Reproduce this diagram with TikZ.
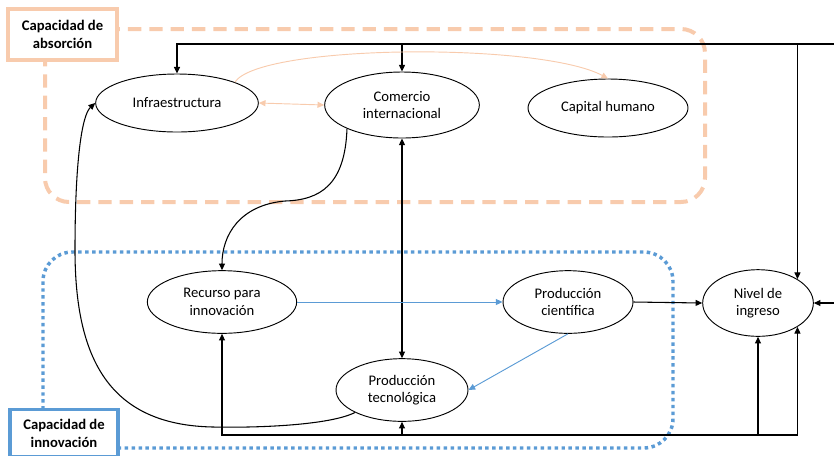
\documentclass[tikz,border=0pt]{standalone}
\usepackage{fontspec}
\setmainfont{Carlito}
\usetikzlibrary{arrows.meta,shapes.geometric}
\definecolor{durazno}{HTML}{F8CBAD}
\definecolor{azul}{HTML}{5B9BD5}
\tikzset{
  elipse/.style={draw, ellipse, line width=0.7pt, inner sep=0pt, align=center,
    font=\fontsize{11}{13}\selectfont},
  etiqueta/.style={draw, fill=white, line width=2.4pt, align=center,
    font=\bfseries\fontsize{11}{13.5}\selectfont},
  punta/.style={-{Triangle[length=5pt,width=4.5pt]}},
  flecha/.style={punta, line width=0.8pt},
  doble/.style={{Triangle[length=5pt,width=4.5pt]}-{Triangle[length=5pt,width=4.5pt]}, line width=0.8pt},
  lineaD/.style={punta, durazno, line width=0.7pt},
  lineaA/.style={punta, azul, line width=0.7pt},
  regionA/.style={durazno, line width=3pt, dash pattern=on 10pt off 6pt, rounded corners=18pt},
  regionI/.style={azul, line width=2.6pt, dash pattern=on 2.6pt off 2.6pt, rounded corners=22pt}
}
\begin{document}
\begin{tikzpicture}[x=0.75pt,y=-0.75pt]
    \useasboundingbox (0,0) rectangle (834,455);
    \clip (0,0) rectangle (834,455);

    % Regiones
    \draw[regionA] (45,29) rectangle (705,202);
    \draw[regionI] (43,252) rectangle (673,448);

    % Etiquetas
    \node[etiqueta, draw=durazno, minimum width=81.75pt, minimum height=38.25pt] (absorcion) at (62.5,34.5) {Capacidad de\\absorción};
    \node[etiqueta, draw=azul, anchor=north, minimum width=81pt, inner ysep=7pt] (innovacion) at (64,408) {Capacidad de\\innovación};

    % Nodos
    \node[elipse, minimum width=122pt, minimum height=43.5pt] (infra) at (177,103) {Infraestructura};
    \node[elipse, minimum width=116pt, minimum height=49.5pt] (comercio) at (402,105) {Comercio\\internacional};
    \node[elipse, minimum width=120pt, minimum height=43.5pt] (capital) at (608,108) {Capital humano};
    \node[elipse, minimum width=112pt, minimum height=47pt] (recurso) at (222,302) {Recurso para\\innovación};
    \node[elipse, minimum width=97.5pt, minimum height=47pt] (cientifica) at (568,302) {Producción\\científica};
    \node[elipse, minimum width=83pt, minimum height=50pt] (nivel) at (758,303) {Nivel de\\ingreso};
    \node[elipse, minimum width=99pt, minimum height=47pt] (tecno) at (402,390) {Producción\\tecnológica};

    % Puntos libres
    \coordinate (entradaSup) at (834,44);
    \coordinate (entradaDer) at (834,303);
    \coordinate (baseInf) at (222,435);

    % Conexiones superiores
    \draw[flecha, line width=1pt] (entradaSup) -| (infra.north);
    \draw[flecha] (comercio.north |- entradaSup) -- (comercio.north);
    \draw[flecha] (nivel.north east |- entradaSup) -- (nivel.north east);
    \draw[flecha] (entradaDer) -- (nivel.east);

    % Capacidad de absorción
    \draw[lineaD] (infra.north east) .. controls (260,44) and (540,42) .. (capital.north);
    \draw[lineaD, {Triangle[length=5pt,width=4.5pt]}-{Triangle[length=5pt,width=4.5pt]}] (infra.east) -- (comercio.west);
    \draw[flecha] (comercio.south west) .. controls (345,185) and (320,200) .. (285,201)
        .. controls (240,205) and (222,235) .. (recurso.north);
    \draw[doble] (comercio.south) -- (tecno.north);

    % Capacidad de innovación
    \draw[lineaA] (recurso.east) -- (cientifica.west);
    \draw[lineaA] (cientifica.south) -- (tecno.east);
    \draw[flecha] (cientifica.east) -- (nivel.west);
    \draw[flecha] (tecno.south west) .. controls (330,425) and (260,428) .. (213,427)
        .. controls (110,425) and (75,360) .. (75,250)
        .. controls (75,160) and (82,115) .. (infra.west);

    % Conexiones inferiores
    \draw[flecha, line width=1pt] (nivel.south |- baseInf) -| (recurso.south);
    \draw[flecha] (tecno.south |- baseInf) -- (tecno.south);
    \draw[flecha] (nivel.south |- baseInf) -- (nivel.south);
    \draw[flecha] (nivel.south |- baseInf) -| (nivel.south east);
\end{tikzpicture}
\end{document}
